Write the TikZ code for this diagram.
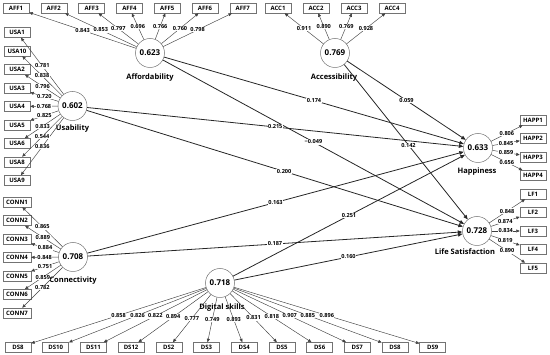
\documentclass[tikz,border=0pt]{standalone}
\usepackage{fontspec}
\setmainfont{Open Sans}
\usetikzlibrary{arrows.meta}
\begin{document}
\begin{tikzpicture}[x=1pt,y=-1pt,
 ind/.style={draw=black!55, line width=0.5pt, minimum width=26pt, minimum height=10pt, inner xsep=3pt, inner ysep=0pt, font=\fontsize{6}{6}\selectfont\bfseries, fill=white},
 lat/.style={circle, draw=black!55, line width=0.5pt, minimum size=29pt, inner sep=0pt, fill=white, font=\fontsize{8}{8}\selectfont\bfseries},
 latname/.style={font=\fontsize{7.5}{7.5}\selectfont\bfseries, inner sep=0pt},
 ldln/.style={-{Triangle[length=3.5pt,width=3pt]}, line width=0.45pt, draw=black!75},
 pathln/.style={-{Triangle[length=4.5pt,width=3.6pt]}, line width=0.8pt, draw=black!85},
 lbl/.style={font=\fontsize{5.6}{5.6}\selectfont\bfseries, fill=white, inner sep=0.5pt},
]
\useasboundingbox (0,0) rectangle (550,355);

% latent variables
\node[lat] (aff) at (150,53) {0.623};
\node[lat] (acc) at (335,53) {0.769};
\node[lat] (usa) at (72.5,106) {0.602};
\node[lat] (conn) at (73,257) {0.708};
\node[lat] (ds) at (220,283) {0.718};
\node[lat] (hap) at (478,148) {0.633};
\node[lat] (ls) at (477,231) {0.728};

\node[latname] (naff) at (150,78) {Affordability};
\node[latname] (nacc) at (334,78) {Accessibility};
\node[latname] (nusa) at (72.5,129) {Usability};
\node[latname] (nconn) at (73,281) {Connectivity};
\node[latname] (nds) at (222,308) {Digital skills};
\node[latname] (nhap) at (477,172) {Happiness};
\node[latname] (nls) at (465,252) {Life Satisfaction};

% indicators
\foreach \v [count=\i] in {0.843,0.853,0.797,0.696,0.766,0.760,0.798}
  \node[ind] (aff\i) at ({16+37.8*(\i-1)},8) {AFF\i};
\foreach \v [count=\i] in {0.911,0.890,0.769,0.928}
  \node[ind] (acc\i) at ({278+38*(\i-1)},8) {ACC\i};
\foreach \t/\v [count=\i] in {USA1/0.781,USA10/0.838,USA2/0.796,USA3/0.720,USA4/0.768,USA5/0.825,USA6/0.833,USA8/0.544,USA9/0.836}
  \node[ind] (usa\i) at (17,{32.5+18.5*(\i-1)}) {\t};
\foreach \v [count=\i] in {0.865,0.889,0.884,0.848,0.751,0.859,0.782}
  \node[ind] (conn\i) at (17,{202+18.5*(\i-1)}) {CONN\i};
\foreach \t/\v [count=\i] in {DS8/0.858,DS10/0.826,DS11/0.822,DS12/0.894,DS2/0.777,DS3/0.749,DS4/0.893,DS5/0.831,DS6/0.818,DS7/0.907,DS8/0.885,DS9/0.896}
  \node[ind] (ds\i) at ({18+37.7*(\i-1)},347.5) {\t};
\foreach \v [count=\i] in {0.806,0.845,0.859,0.656}
  \node[ind] (hap\i) at (533,{120+18.5*(\i-1)}) {HAPP\i};
\foreach \v [count=\i] in {0.848,0.874,0.834,0.819,0.890}
  \node[ind] (ls\i) at (533,{194+18.5*(\i-1)}) {LF\i};

% loading arrows
\foreach \i in {1,...,7} \draw[ldln] (aff) -- (aff\i);
\foreach \i in {1,...,4} \draw[ldln] (acc) -- (acc\i);
\foreach \i in {1,...,9} \draw[ldln] (usa) -- (usa\i);
\foreach \i in {1,...,7} \draw[ldln] (conn) -- (conn\i);
\foreach \i in {1,...,12} \draw[ldln] (ds) -- (ds\i);
\foreach \i in {1,...,4} \draw[ldln] (hap) -- (hap\i);
\foreach \i in {1,...,5} \draw[ldln] (ls) -- (ls\i);

% structural paths
\draw[pathln] (aff) -- (hap);
\draw[pathln] (aff) -- (ls);
\draw[pathln] (acc) -- (hap);
\draw[pathln] (acc) -- (ls);
\draw[pathln] (usa) -- (hap);
\draw[pathln] (usa) -- (ls);
\draw[pathln] (conn) -- (hap);
\draw[pathln] (conn) -- (ls);
\draw[pathln] (ds) -- (hap);
\draw[pathln] (ds) -- (ls);

% loading labels
\foreach \v [count=\i] in {0.843,0.853,0.797,0.696,0.766,0.760,0.798}
  \path (aff) -- node[lbl]{\v} (aff\i);
\foreach \v [count=\i] in {0.911,0.890,0.769,0.928}
  \path (acc) -- node[lbl]{\v} (acc\i);
\foreach \v [count=\i] in {0.781,0.838,0.796,0.720,0.768,0.825,0.833,0.544,0.836}
  \path (usa) -- node[lbl]{\v} (usa\i);
\foreach \v [count=\i] in {0.865,0.889,0.884,0.848,0.751,0.859,0.782}
  \path (conn) -- node[lbl]{\v} (conn\i);
\foreach \v [count=\i] in {0.858,0.826,0.822,0.894,0.777,0.749,0.893,0.831,0.818,0.907,0.885,0.896}
  \path (ds) -- node[lbl]{\v} (ds\i);
\foreach \v [count=\i] in {0.806,0.845,0.859,0.656}
  \path (hap) -- node[lbl]{\v} (hap\i);
\foreach \v [count=\i] in {0.848,0.874,0.834,0.819,0.890}
  \path (ls) -- node[lbl]{\v} (ls\i);

% path labels
\path (aff) -- node[lbl]{0.174} (hap);
\path (aff) -- node[lbl]{−0.049} (ls);
\path (acc) -- node[lbl]{0.059} (hap);
\path (acc) -- node[lbl, pos=0.52]{0.142} (ls);
\path (usa) -- node[lbl]{0.215} (hap);
\path (usa) -- node[lbl, pos=0.525]{0.200} (ls);
\path (conn) -- node[lbl]{0.163} (hap);
\path (conn) -- node[lbl]{0.187} (ls);
\path (ds) -- node[lbl]{0.251} (hap);
\path (ds) -- node[lbl]{0.160} (ls);
\end{tikzpicture}
\end{document}
